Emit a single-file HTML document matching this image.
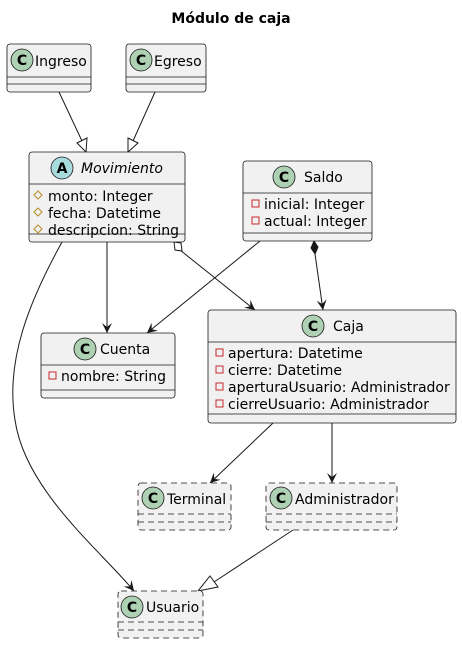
<!DOCTYPE html>
<html><head><meta charset="utf-8"><style>html,body{margin:0;padding:0;background:#fff}</style></head><body>
<svg width="462" height="644" viewBox="0 0 462 644" xmlns="http://www.w3.org/2000/svg" font-family="DejaVu Sans, Liberation Sans, sans-serif" font-size="14">
<defs>
<marker id="arr" viewBox="0 0 12 12" refX="11" refY="6" markerWidth="12" markerHeight="12" orient="auto" markerUnits="userSpaceOnUse"><path d="M1,1 L11,6 L1,11 L5,6 Z" fill="#181818"/></marker>
</defs>
<text x="231" y="23" text-anchor="middle" font-weight="bold" font-size="14">Módulo de caja</text>

<g stroke="#181818" stroke-width="1" fill="none">
<!-- edges -->
<line x1="59" y1="92" x2="82" y2="141"/>
<polygon points="77,143 87,138 86,152" fill="#fff"/>
<line x1="155" y1="92" x2="133" y2="141"/>
<polygon points="128,138 138,143 128,152" fill="#fff"/>
<line x1="107" y1="242" x2="107" y2="333" marker-end="url(#arr)"/>
<line x1="180" y1="250" x2="255" y2="310" marker-end="url(#arr)"/>
<polygon points="174,242 181,243 182,251 175,250" fill="#fff"/>
<line x1="260" y1="241" x2="147" y2="333" marker-end="url(#arr)"/>
<line x1="315" y1="254" x2="323" y2="310" marker-end="url(#arr)"/>
<polygon points="314,241 318,247 315,254 311,248" fill="#181818"/>
<path d="M62,242 C30,300 5,360 15,420 C25,490 100,550 134,591" marker-end="url(#arr)"/>
<line x1="273" y1="423" x2="210" y2="483" marker-end="url(#arr)"/>
<line x1="332" y1="423" x2="332" y2="483" marker-end="url(#arr)"/>
<line x1="293" y1="530" x2="214" y2="582"/>
<polygon points="210,576 218,587 198,591" fill="#fff"/>
</g>

<g stroke="#181818" stroke-width="0.8" fill="#f1f1f1">
<rect x="7" y="44" width="84" height="48" rx="3"/>
<rect x="126" y="44" width="80" height="48" rx="3"/>
<rect x="29" y="152" width="156" height="90" rx="3"/>
<rect x="243" y="161" width="129" height="80" rx="3"/>
<rect x="208" y="310" width="248" height="113" rx="3"/>
<rect x="41" y="333" width="134" height="65" rx="3"/>
<g stroke-dasharray="6,4">
<rect x="138" y="483" width="93" height="47" rx="3"/>
<rect x="266" y="483" width="131" height="47" rx="3"/>
<rect x="118" y="591" width="85" height="47" rx="3"/>
</g>
</g>
<g stroke="#181818" stroke-width="0.8">
<line x1="7" y1="77" x2="91" y2="77"/><line x1="7" y1="84" x2="91" y2="84"/>
<line x1="126" y1="77" x2="206" y2="77"/><line x1="126" y1="84" x2="206" y2="84"/>
<line x1="29" y1="184" x2="185" y2="184"/><line x1="29" y1="234" x2="185" y2="234"/>
<line x1="243" y1="193" x2="372" y2="193"/><line x1="243" y1="233" x2="372" y2="233"/>
<line x1="208" y1="342" x2="456" y2="342"/><line x1="208" y1="414" x2="456" y2="414"/>
<line x1="41" y1="365" x2="175" y2="365"/><line x1="41" y1="390" x2="175" y2="390"/>
<g stroke-dasharray="6,4">
<line x1="138" y1="514" x2="231" y2="514"/><line x1="138" y1="522" x2="231" y2="522"/>
<line x1="266" y1="514" x2="397" y2="514"/><line x1="266" y1="522" x2="397" y2="522"/>
<line x1="118" y1="622" x2="203" y2="622"/><line x1="118" y1="630" x2="203" y2="630"/>
</g>
</g>

<!-- circles -->
<g stroke="#181818" stroke-width="0.8">
<circle cx="22" cy="60" r="11" fill="#add1b2"/>
<circle cx="141" cy="60" r="11" fill="#add1b2"/>
<circle cx="62" cy="168" r="11" fill="#a9dcdf"/>
<circle cx="284" cy="177" r="11" fill="#add1b2"/>
<circle cx="313" cy="326" r="11" fill="#add1b2"/>
<circle cx="85" cy="349" r="11" fill="#add1b2"/>
<circle cx="153" cy="498" r="11" fill="#add1b2"/>
<circle cx="281" cy="498" r="11" fill="#add1b2"/>
<circle cx="132" cy="607" r="11" fill="#add1b2"/>
</g>
<g font-weight="bold" font-size="14" text-anchor="middle" fill="#000">
<text x="22" y="65">C</text><text x="141" y="65">C</text><text x="62" y="173">A</text>
<text x="284" y="182">C</text><text x="313" y="331">C</text><text x="85" y="354">C</text>
<text x="153" y="503">C</text><text x="281" y="503">C</text><text x="132" y="612">C</text>
</g>
<g fill="#000">
<text x="35" y="66">Ingreso</text>
<text x="154" y="66">Egreso</text>
<text x="81" y="173" font-style="italic">Movimiento</text>
<text x="304" y="182">Saldo</text>
<text x="333" y="331">Caja</text>
<text x="100" y="354">Cuenta</text>
<text x="167" y="504">Terminal</text>
<text x="295" y="504">Administrador</text>
<text x="146" y="612">Usuario</text>
</g>
<g fill="#000">
<text x="48" y="201">monto: Integer</text>
<text x="48" y="218">fecha: Datetime</text>
<text x="48" y="235">descripcion: String</text>
<text x="264" y="209">inicial: Integer</text>
<text x="264" y="226">actual: Integer</text>
<text x="228" y="358">apertura: Datetime</text>
<text x="228" y="375">cierre: Datetime</text>
<text x="228" y="392">aperturaUsuario: Administrador</text>
<text x="228" y="409">cierreUsuario: Administrador</text>
<text x="61" y="381">nombre: String</text>
</g>
<g fill="none" stroke="#b38d22" stroke-width="1">
<polygon points="38,191 42,195 38,199 34,195"/>
<polygon points="38,208 42,212 38,216 34,212"/>
<polygon points="38,225 42,229 38,233 34,229"/>
</g>
<g fill="none" stroke="#c82930" stroke-width="1">
<rect x="252" y="200" width="7" height="7"/>
<rect x="252" y="217" width="7" height="7"/>
<rect x="216" y="349" width="7" height="7"/>
<rect x="216" y="366" width="7" height="7"/>
<rect x="216" y="383" width="7" height="7"/>
<rect x="216" y="400" width="7" height="7"/>
<rect x="49" y="372" width="7" height="7"/>
</g>
</svg>
</body></html>
